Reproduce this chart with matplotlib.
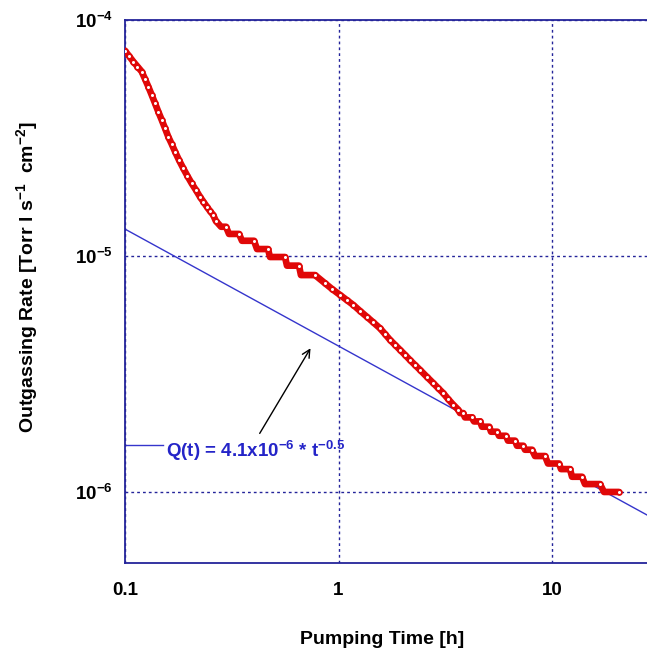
import numpy as np
import matplotlib
matplotlib.use('Agg')
import matplotlib.pyplot as plt
from matplotlib.ticker import FixedLocator, FixedFormatter, NullLocator

plt.rcParams['font.family'] = ['Liberation Sans', 'DejaVu Sans']
plt.rcParams['mathtext.fontset'] = 'custom'
plt.rcParams['mathtext.rm'] = 'Liberation Sans'
plt.rcParams['mathtext.bf'] = 'Liberation Sans:bold'

# Measured outgassing rate, read off the reference picture
# early part: separate circles
early_t = [0.1000, 0.1044, 0.1094, 0.1144, 0.1198, 0.1241, 0.1286, 0.1334,
           0.1382, 0.1432, 0.1486, 0.1539, 0.1595, 0.1655, 0.1715, 0.1790,
           0.1875, 0.1962, 0.2053, 0.2151, 0.2246, 0.2327, 0.2414, 0.2501,
           0.2592, 0.2660]
early_q = [7.41e-5, 7.04e-5, 6.66e-5, 6.35e-5, 6.04e-5, 5.62e-5, 5.22e-5,
           4.81e-5, 4.44e-5, 4.09e-5, 3.77e-5, 3.48e-5, 3.20e-5, 2.98e-5,
           2.77e-5, 2.55e-5, 2.35e-5, 2.18e-5, 2.03e-5, 1.90e-5, 1.78e-5,
           1.70e-5, 1.62e-5, 1.55e-5, 1.49e-5, 1.41e-5]

# first staircase (quantized readings)
step1_t0 = [0.2817, 0.3070, 0.3532, 0.4153, 0.4777, 0.5738, 0.667]
step1_t1 = [0.2972, 0.3420, 0.4021, 0.4675, 0.5615, 0.6530, 0.776]
step1_q = [1.33e-5, 1.24e-5, 1.16e-5, 1.07e-5, 9.9e-6, 9.1e-6, 8.3e-6]

# middle part: dense band
mid_t = [0.865, 0.932, 1.016, 1.092, 1.173, 1.261, 1.356, 1.456, 1.564,
         1.651, 1.743, 1.840, 1.942, 2.049, 2.163, 2.283, 2.409, 2.589,
         2.780, 2.934, 3.097, 3.269, 3.450, 3.641]
mid_q = [7.66e-6, 7.25e-6, 6.84e-6, 6.51e-6, 6.20e-6, 5.85e-6, 5.53e-6,
         5.23e-6, 4.94e-6, 4.67e-6, 4.41e-6, 4.20e-6, 4.00e-6, 3.81e-6,
         3.62e-6, 3.45e-6, 3.29e-6, 3.08e-6, 2.89e-6, 2.75e-6, 2.62e-6,
         2.47e-6, 2.34e-6, 2.23e-6]

# second staircase
step2_t0 = [3.708, 3.913, 4.312, 4.701, 5.180, 5.646, 6.220, 6.856, 7.473,
            8.325, 9.578, 11.02, 12.41, 14.27, 17.52]
step2_t1 = [3.830, 4.206, 4.601, 5.085, 5.543, 6.087, 6.709, 7.338, 8.060,
            9.273, 10.79, 12.14, 13.82, 16.78, 20.60]
step2_q = [2.16e-6, 2.07e-6, 1.99e-6, 1.89e-6, 1.80e-6, 1.73e-6, 1.65e-6,
           1.57e-6, 1.51e-6, 1.42e-6, 1.32e-6, 1.25e-6, 1.16e-6, 1.08e-6,
           1.00e-6]

# fit line Q(t) = 4.1e-6 * t^-0.5 (end points)
fit_t = [0.1, 30.0]
fit_q = [1.30e-5, 7.70e-7]

x_ticks = [0.1, 1, 10]
x_tick_labels = ['0.1', '1', '10']
y_ticks = [1e-6, 1e-5, 1e-4]
y_tick_labels = [r'$\mathbf{10^{-6}}$', r'$\mathbf{10^{-5}}$',
                 r'$\mathbf{10^{-4}}$']

RED = '#e00808'
NAVY = '#24249a'
BLUE = '#3535cc'

fig = plt.figure(figsize=(6.47, 6.51), dpi=100)
ax = fig.add_axes([125 / 647, 88 / 651, 640.5 / 647, 543 / 651])
ax.set_xscale('log')
ax.set_yscale('log')
ax.set_xlim(0.1, 100)
ax.set_ylim(5e-7, 1e-4)

# grid on major decades only
ax.xaxis.set_major_locator(FixedLocator(x_ticks))
ax.xaxis.set_major_formatter(FixedFormatter(x_tick_labels))
ax.yaxis.set_major_locator(FixedLocator(y_ticks))
ax.yaxis.set_major_formatter(FixedFormatter(y_tick_labels))
ax.xaxis.set_minor_locator(NullLocator())
ax.yaxis.set_minor_locator(NullLocator())
ax.grid(True, which='major', color=NAVY, linestyle=(0, (2, 2.2)), lw=1.0)
ax.set_axisbelow(True)
ax.tick_params(axis='x', length=0, pad=14, labelsize=13.5)
ax.tick_params(axis='y', length=0, pad=9, labelsize=13.5)
for lab in ax.get_xticklabels():
    lab.set_fontweight('bold')
for sp in ax.spines.values():
    sp.set_color(NAVY)
    sp.set_linewidth(1.3)

# fit line
ax.plot(fit_t, fit_q, color=BLUE, lw=1.0, zorder=2)

# measured data: one continuous band of circles
band_t = list(early_t)
band_q = list(early_q)
for a, b, q in zip(step1_t0, step1_t1, step1_q):
    band_t += [a, b]
    band_q += [q, q]
band_t += mid_t
band_q += mid_q
for a, b, q in zip(step2_t0, step2_t1, step2_q):
    band_t += [a, b]
    band_q += [q, q]

ax.plot(band_t, band_q, color=RED, lw=4.8, solid_capstyle='round',
        solid_joinstyle='round', zorder=3)
mark_t = early_t + step1_t1 + mid_t + step2_t1
mark_q = early_q + step1_q + mid_q + step2_q
ax.plot(mark_t, mark_q, ls='none', marker='o', ms=3.5, mfc='white',
        mec=RED, mew=1.3, zorder=4)

# annotation
lead_t = [0.1, 0.15]
lead_q = [1.58e-6, 1.58e-6]
ax.plot(lead_t, lead_q, color=BLUE, lw=1.0, zorder=2)
ax.text(0.156, 1.50e-6, r'Q(t) = 4.1x10$^{\mathbf{-6}}$ * t$^{\mathbf{-0.5}}$',
        color='#2424c8', fontsize=13.5, fontweight='bold', va='center',
        ha='left')
ax.annotate('', xy=(0.751, 4.16e-6), xytext=(0.421, 1.73e-6),
            arrowprops=dict(arrowstyle='->', color='black', lw=1.0,
                            mutation_scale=14))

fig.text(382 / 647, 1 - 640 / 651, 'Pumping Time [h]', ha='center',
         va='center', fontsize=14, fontweight='bold')
fig.text(28 / 647, 1 - 277 / 651,
         r'Outgassing Rate [Torr l s$^{\mathbf{-1}}$  cm$^{\mathbf{-2}}$]',
         ha='center', va='center', rotation=90, fontsize=14,
         fontweight='bold')

fig.savefig('out.png', dpi=100)
